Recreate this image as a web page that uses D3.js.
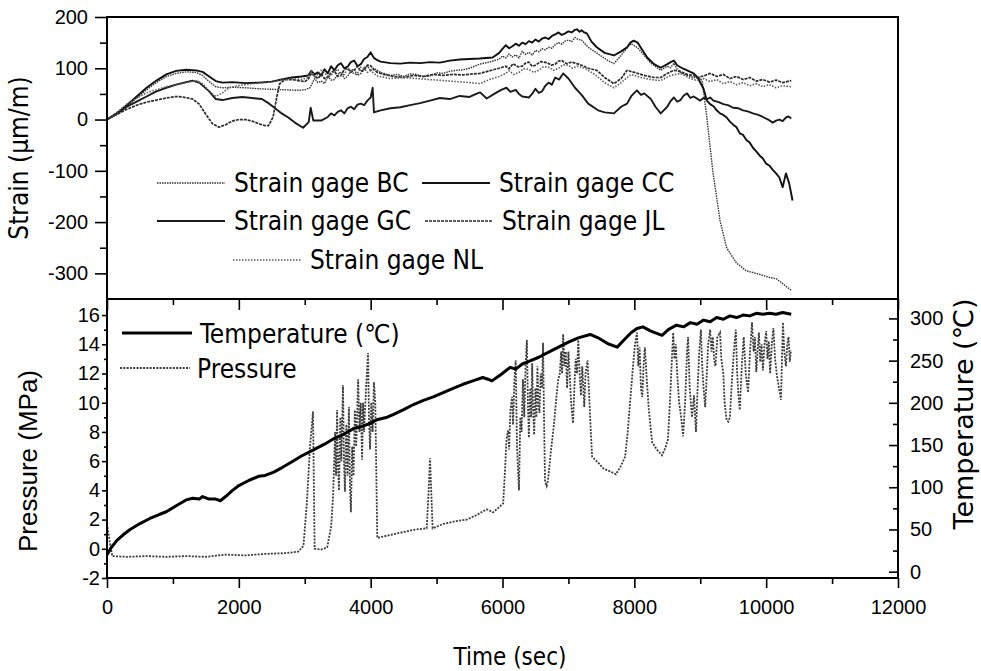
<!DOCTYPE html>
<html>
<head>
<meta charset="utf-8">
<script src="https://cdn.jsdelivr.net/npm/d3@7"></script>
<style>
body { margin: 0; background: #fff; }
.tick text { font-family: Arial, "Liberation Sans", sans-serif; font-size: 20px; fill: #000; }
.tick line { stroke: #000; stroke-width: 1.6; }
.title { font-family: "DejaVu Sans Condensed", "DejaVu Sans", sans-serif; font-size: 26px; fill: #000; }
.legend text { font-family: "DejaVu Sans Condensed", "DejaVu Sans", sans-serif; font-size: 26px; fill: #000; }
</style>
</head>
<body>
<div class="chart"></div>
<script>
// tick values
var timeTicks = [0, 2000, 4000, 6000, 8000, 10000, 12000];
var timeMinor = [1000, 3000, 5000, 7000, 9000, 11000];
var strainTicks = [-300, -200, -100, 0, 100, 200];
var strainMinor = [-250, -150, -50, 50, 150];
var pressureTicks = [-2, 0, 2, 4, 6, 8, 10, 12, 14, 16];
var pressureMinor = [-1, 1, 3, 5, 7, 9, 11, 13, 15];
var tempTicks = [0, 50, 100, 150, 200, 250, 300];
var tempMinor = [25, 75, 125, 175, 225, 275];

var strainNames = ["Strain gage BC", "Strain gage CC", "Strain gage GC", "Strain gage JL", "Strain gage NL"];
var bottomNames = ["Temperature (\u2103)", "Pressure"];

// [time (sec), strain (um/m)]
var strainBC = [[0,0],[150,10],[300,25],[450,42],[600,58],[750,72],[900,84],[1050,90],[1200,93],[1350,92],[1450,86],[1550,74],
  [1650,64],[1750,62],[1900,63],[2100,62],[2300,60],[2500,59],[2700,58],[2900,57],[3000,58],[3080,62],[3150,80],[3200,72],
  [3250,75],[3300,70],[3350,85],[3400,77],[3450,78],[3500,88],[3550,92],[3600,80],[3650,84],[3700,96],[3750,98],[3800,86],
  [3850,90],[3900,101],[3950,105],[4000,95],[4050,100],[4150,92],[4300,86],[4400,88],[4500,84],[4600,89],[4700,88],[4800,84],
  [4900,85],[5000,91],[5100,90],[5200,94],[5300,96],[5400,97],[5500,100],[5650,108],[5800,112],[5900,116],[5950,118],
  [6000,124],[6050,120],[6100,128],[6150,122],[6200,126],[6250,120],[6300,133],[6350,127],[6400,131],[6450,126],[6500,135],
  [6550,132],[6600,138],[6650,136],[6700,141],[6750,139],[6800,146],[6850,150],[6900,147],[6950,153],[7000,155],[7050,152],
  [7100,160],[7150,156],[7200,155],[7300,141],[7450,128],[7600,115],[7690,109],[7800,125],[7890,140],[7950,148],[8050,140],
  [8150,125],[8250,110],[8400,96],[8450,100],[8500,104],[8550,101],[8600,110],[8650,98],[8700,92],[8800,86],[8900,82],
  [9000,80],[9030,76],[9100,4],[9190,-100],[9300,-197],[9400,-250],[9550,-280],[9700,-295],[9900,-302],[10050,-308],
  [10150,-310],[10200,-315],[10300,-325],[10380,-333]];

var strainCC = [[0,0],[150,12],[300,28],[450,45],[600,62],[750,76],[900,88],[1050,95],[1200,97],[1350,96],[1450,93],[1550,84],
  [1650,75],[1750,72],[1900,73],[2100,71],[2300,72],[2500,74],[2650,78],[2800,82],[2950,84],[3050,86],[3100,95],[3150,88],
  [3200,92],[3250,86],[3300,98],[3350,90],[3400,104],[3450,96],[3500,106],[3550,110],[3600,100],[3650,103],[3700,112],
  [3750,115],[3800,104],[3850,108],[3900,118],[3950,122],[4000,131],[4050,120],[4100,116],[4150,113],[4300,110],[4450,109],
  [4600,111],[4750,110],[4900,112],[5050,111],[5200,115],[5350,117],[5500,118],[5650,119],[5850,121],[5950,130],[6000,138],
  [6050,145],[6100,139],[6150,143],[6200,148],[6250,144],[6300,150],[6350,147],[6400,153],[6450,150],[6500,156],[6550,152],
  [6600,158],[6650,160],[6700,157],[6750,163],[6800,166],[6850,170],[6900,165],[6950,168],[7000,172],[7050,170],[7100,175],
  [7130,176],[7170,171],[7200,174],[7240,170],[7280,168],[7350,152],[7430,141],[7550,130],[7690,125],[7800,133],[7890,141],
  [7940,150],[7990,154],[8050,150],[8100,140],[8195,121],[8300,108],[8400,101],[8500,108],[8550,112],[8600,115],[8650,106],
  [8700,102],[8750,99],[8800,96],[8900,90],[8960,82],[9050,60],[9100,37],[9150,30],[9200,26],[9250,18],[9300,12],[9350,9],
  [9400,4],[9450,-4],[9500,-10],[9550,-15],[9600,-27],[9650,-30],[9700,-40],[9750,-45],[9800,-55],[9850,-62],[9900,-70],
  [9950,-76],[10000,-86],[10050,-90],[10100,-98],[10150,-105],[10200,-113],[10250,-132],[10300,-105],[10350,-125],[10400,-158]];

var strainGC = [[0,0],[150,12],[300,25],[450,35],[600,45],[750,55],[900,62],[1050,68],[1200,73],[1300,76],[1400,72],[1550,55],
  [1650,40],[1750,38],[1900,42],[2050,44],[2200,42],[2350,40],[2450,32],[2550,22],[2650,12],[2750,4],[2850,-6],[2975,-16],
  [3060,-5],[3090,23],[3130,-2],[3250,-2],[3350,5],[3400,12],[3450,8],[3500,15],[3550,18],[3600,12],[3650,22],[3700,25],
  [3750,20],[3800,29],[3850,31],[3900,28],[3950,37],[4000,43],[4030,62],[4050,14],[4150,18],[4300,22],[4450,24],[4600,28],
  [4750,32],[4900,37],[5050,42],[5200,40],[5350,46],[5500,44],[5600,50],[5660,53],[5760,41],[5900,52],[5980,58],[6060,62],
  [6120,54],[6200,58],[6250,50],[6300,45],[6400,43],[6450,50],[6500,60],[6550,52],[6600,55],[6650,66],[6700,72],[6750,68],
  [6800,82],[6860,78],[6920,90],[7000,80],[7100,62],[7200,48],[7300,31],[7450,18],[7550,14],[7690,12],[7800,25],[7890,31],
  [7950,45],[8000,52],[8040,57],[8100,48],[8150,51],[8250,40],[8320,25],[8400,12],[8500,25],[8550,36],[8600,43],[8650,35],
  [8700,38],[8750,47],[8800,51],[8850,42],[8900,45],[9000,37],[9050,42],[9100,40],[9150,43],[9200,37],[9280,34],[9350,30],
  [9420,28],[9500,23],[9580,22],[9650,18],[9720,16],[9800,12],[9880,9],[9950,5],[10030,0],[10100,-6],[10150,-2],[10200,0],
  [10250,-3],[10300,4],[10340,6],[10380,2]];

var strainJL = [[0,0],[150,10],[300,20],[450,28],[600,34],[750,38],[900,42],[1050,45],[1150,44],[1300,40],[1400,30],[1500,10],
  [1600,-8],[1700,-15],[1800,-10],[1900,-3],[2000,0],[2100,0],[2200,-3],[2300,-8],[2400,-12],[2450,-12],[2520,5],[2570,40],
  [2620,70],[2700,78],[2800,78],[2900,76],[3000,74],[3050,78],[3100,90],[3150,85],[3200,80],[3250,88],[3300,80],[3350,82],
  [3400,92],[3450,95],[3500,84],[3550,86],[3600,98],[3650,100],[3700,92],[3750,96],[3800,104],[3850,94],[3900,96],[3950,106],
  [4000,105],[4050,97],[4100,92],[4200,88],[4350,84],[4500,82],[4650,86],[4800,84],[4950,88],[5100,86],[5250,88],[5400,87],
  [5550,89],[5660,90],[5800,95],[5950,100],[6050,104],[6100,99],[6160,109],[6230,103],[6300,104],[6350,110],[6400,112],
  [6450,104],[6500,106],[6580,113],[6675,111],[6740,106],[6800,108],[6850,114],[6900,115],[6970,109],[7050,112],[7130,109],
  [7200,106],[7300,100],[7430,96],[7550,82],[7690,70],[7800,80],[7890,96],[8000,92],[8150,86],[8300,82],[8400,82],[8500,90],
  [8600,96],[8700,94],[8800,88],[8900,86],[8960,82],[9050,85],[9150,90],[9250,84],[9350,88],[9450,80],[9550,84],[9650,78],
  [9750,82],[9850,75],[9950,78],[10050,73],[10150,77],[10250,72],[10380,76]];

var strainNL = [[0,0],[150,14],[300,30],[450,42],[600,52],[750,58],[900,64],[1050,68],[1200,72],[1350,76],[1450,70],[1550,55],
  [1650,45],[1750,52],[1850,62],[2000,66],[2200,70],[2400,72],[2600,76],[2800,80],[2950,78],[3050,82],[3100,95],[3150,84],
  [3200,88],[3250,96],[3300,92],[3350,82],[3400,86],[3450,94],[3500,98],[3550,86],[3600,88],[3650,100],[3700,96],[3750,88],
  [3800,90],[3850,102],[3900,100],[3950,92],[4000,95],[4100,85],[4300,80],[4500,82],[4700,80],[4900,78],[5100,76],[5300,74],
  [5500,72],[5660,70],[5800,78],[5950,84],[6050,90],[6100,95],[6170,88],[6250,92],[6320,99],[6400,98],[6470,92],[6550,96],
  [6620,103],[6700,102],[6780,96],[6850,100],[6920,107],[7000,106],[7060,100],[7130,104],[7250,100],[7400,88],[7550,72],
  [7690,62],[7800,72],[7950,88],[8100,82],[8250,78],[8400,76],[8550,86],[8700,90],[8850,80],[8950,76],[9050,80],[9150,74],
  [9250,78],[9350,70],[9450,74],[9550,68],[9650,72],[9750,66],[9850,70],[9950,64],[10050,68],[10150,62],[10250,66],[10380,64]];

// [time (sec), pressure (MPa)]
var pressure = [[0,1.7],[40,0.5],[80,-0.5],[300,-0.55],[600,-0.5],[900,-0.55],[1200,-0.5],[1500,-0.55],[1800,-0.4],
  [2100,-0.45],[2400,-0.35],[2700,-0.3],[2900,-0.2],[2980,0.2],[3030,3],[3080,7],[3125,9.4],[3150,0],[3250,-0.05],
  [3340,0.1],[3400,1.5],[3430,3.6],[3460,8],[3475,5],[3490,9.5],[3505,5.5],[3520,4],[3540,9],[3555,6],[3580,11.2],
  [3595,6],[3610,3.9],[3630,8.5],[3650,5],[3670,9.7],[3685,4.5],[3700,2.5],[3720,7],[3740,5],[3760,9.5],[3780,7],
  [3810,11.6],[3830,8],[3850,10],[3870,6.1],[3885,10],[3900,8],[3930,11],[3960,13.4],[3975,9],[3990,6.8],[4010,10],
  [4030,8],[4050,11.4],[4070,10],[4100,0.75],[4250,0.9],[4450,1.1],[4650,1.3],[4850,1.4],[4880,4],[4900,6.2],[4940,1.4],
  [5100,1.7],[5300,1.9],[5460,2.0],[5600,2.3],[5760,2.7],[5860,2.5],[6010,3.1],[6040,5.5],[6060,7.5],[6085,8.1],[6100,6.8],
  [6120,9.5],[6145,10.4],[6160,8.5],[6180,11.5],[6200,12.9],[6220,7],[6250,4.0],[6270,9],[6290,8],[6310,11.6],[6330,9],
  [6350,12.5],[6370,14.3],[6385,10],[6400,7.6],[6420,11],[6435,9],[6450,12.7],[6465,9.5],[6480,7.8],[6500,11],[6515,9],
  [6530,12.5],[6545,10],[6560,9.3],[6580,12],[6600,11],[6615,14.1],[6630,9],[6645,4.6],[6670,4.3],[6690,4.7],[6730,6.5],
  [6780,8.5],[6820,10.5],[6845,11.6],[6870,12],[6890,13.5],[6905,12],[6920,14.7],[6940,12.5],[6960,13.5],[6980,11.0],
  [7000,13.5],[7020,12],[7040,10],[7070,8.6],[7090,11],[7110,13],[7130,12],[7150,14.3],[7170,12],[7190,10.5],[7210,12.5],
  [7240,9.7],[7260,12],[7290,12.9],[7320,10],[7340,8],[7360,6.3],[7450,5.9],[7530,5.5],[7630,5.3],[7720,5.1],[7800,5.7],
  [7860,6.3],[7900,8],[7935,10.0],[7980,12.5],[8010,14],[8040,14.8],[8060,12.5],[8080,13.8],[8100,11],[8120,10.4],
  [8140,12.5],[8160,13.8],[8190,11.5],[8220,9.5],[8270,7.3],[8340,6.8],[8420,6.4],[8470,6.9],[8510,7.5],[8540,10],
  [8570,13],[8590,14.8],[8610,13],[8630,14],[8650,12],[8680,10],[8710,9],[8740,7.7],[8770,10],[8800,13.5],[8815,14.5],
  [8840,11],[8875,9.0],[8905,10.5],[8935,8.0],[8960,11],[8985,13.5],[9010,15.0],[9030,12.5],[9050,11],[9075,9.7],
  [9100,12],[9120,14],[9150,15.0],[9170,13.5],[9190,14.5],[9210,13],[9230,12.5],[9260,14.5],[9300,14.8],[9320,13],
  [9350,12],[9370,10],[9400,8.8],[9425,8.7],[9450,9.0],[9480,11.5],[9510,13.5],[9540,15.0],[9560,12],[9580,10.5],
  [9600,9.5],[9630,12.5],[9660,14.5],[9690,12],[9725,10.7],[9755,13.5],[9785,15.5],[9810,13.5],[9830,14.5],[9850,12.1],
  [9870,13.5],[9890,14.8],[9910,12.8],[9930,14],[9950,12.2],[9975,14],[10000,14.9],[10020,13],[10040,14.2],[10060,12.0],
  [10085,14],[10110,15.1],[10135,13],[10165,11.8],[10195,11],[10225,10.2],[10240,13],[10255,15.5],[10275,13.5],
  [10300,12.5],[10320,14],[10340,14.5],[10358,12.8],[10375,13.6]];

// [time (sec), temperature (C)]
var temperature = [[0,20],[60,28],[150,37],[250,44],[350,50],[500,57],[650,63],[800,68],[900,71],[1050,78],[1200,85],
  [1300,87],[1400,86],[1450,89],[1550,86],[1650,86],[1720,84],[1800,89],[1900,96],[2000,102],[2150,108],[2300,113],
  [2400,114],[2530,118],[2650,123],[2800,130],[2950,137],[3125,144],[3300,151],[3450,158],[3600,163],[3750,170],[3870,172],
  [4000,176],[4095,180],[4250,183],[4340,186],[4500,192],[4650,198],[4800,203],[4950,207],[5100,212],[5250,217],[5400,222],
  [5550,226],[5700,230],[5780,228],[5840,226],[5950,232],[6050,238],[6115,242],[6200,240],[6300,246],[6400,249],[6550,254],
  [6700,260],[6850,266],[7000,272],[7150,277],[7330,281],[7450,277],[7600,270],[7740,266],[7850,275],[7950,283],[8040,288],
  [8130,290],[8250,285],[8420,280],[8520,287],[8640,292],[8750,290],[8850,295],[8950,293],[9050,298],[9150,296],[9250,301],
  [9350,299],[9450,303],[9550,301],[9650,304],[9750,303],[9850,306],[9950,305],[10050,306],[10150,305],[10250,307],[10380,305]];

var strainSeries = [strainBC, strainCC, strainGC, strainJL, strainNL];

var width = 981, height = 671;
var left = 107, right = 898, top1 = 17, mid = 299, bottom = 578;

var svg = d3.select(".chart").append("svg")
    .attr("width", width)
    .attr("height", height)
    .style("background", "#fff");

var x = d3.scaleLinear().domain([0, 12000]).range([left, right]);
var yStrain = d3.scaleLinear().domain([-350, 200]).range([mid, top1]);
var yPress = d3.scaleLinear().domain([-2, 17.1]).range([bottom, mid]);
var yTemp = d3.scaleLinear().domain([-7.5, 323]).range([bottom, mid]);

// plain labels, hyphen minus and no thousands comma
var plain = function(d) { return String(d); };

// line looks for each gage
var strainStyles = [
    { stroke: "#333", width: 1.4, dash: "1.5,1" },
    { stroke: "#111", width: 1.9, dash: null },
    { stroke: "#1a1a1a", width: 1.9, dash: null },
    { stroke: "#2a2a2a", width: 1.7, dash: "3,1" },
    { stroke: "#5a5a5a", width: 1.6, dash: "1.5,1.5" }
];

var strainLine = d3.line().x(function(d) { return x(d[0]); }).y(function(d) { return yStrain(d[1]); });
var pressLine = d3.line().x(function(d) { return x(d[0]); }).y(function(d) { return yPress(d[1]); });
var tempLine = d3.line().x(function(d) { return x(d[0]); }).y(function(d) { return yTemp(d[1]); });

svg.selectAll(".strain")
    .data(strainSeries)
    .enter().append("path")
    .attr("class", "strain")
    .attr("d", strainLine)
    .attr("fill", "none")
    .attr("stroke", function(d, i) { return strainStyles[i].stroke; })
    .attr("stroke-width", function(d, i) { return strainStyles[i].width; })
    .attr("stroke-dasharray", function(d, i) { return strainStyles[i].dash; })
    .attr("stroke-linejoin", "round");

svg.append("path")
    .attr("d", pressLine(pressure))
    .attr("fill", "none")
    .attr("stroke", "#3c3c3c")
    .attr("stroke-width", 1.8)
    .attr("stroke-dasharray", "2,1.3");

svg.append("path")
    .attr("d", tempLine(temperature))
    .attr("fill", "none")
    .attr("stroke", "#000")
    .attr("stroke-width", 3)
    .attr("stroke-linejoin", "round");

// axes
function noDomain(g) { g.select(".domain").remove(); }

svg.append("g").attr("transform", "translate(" + left + ",0)")
    .call(d3.axisLeft(yStrain).tickValues(strainTicks).tickFormat(plain).tickSize(12).tickPadding(7)).call(noDomain);
svg.append("g").attr("transform", "translate(" + left + ",0)")
    .call(d3.axisLeft(yStrain).tickValues(strainMinor).tickSize(7).tickFormat("")).call(noDomain);

svg.append("g").attr("transform", "translate(" + left + ",0)")
    .call(d3.axisLeft(yPress).tickValues(pressureTicks).tickFormat(plain).tickSize(5).tickPadding(2)).call(noDomain);
svg.append("g").attr("transform", "translate(" + left + ",0)")
    .call(d3.axisLeft(yPress).tickValues(pressureMinor).tickSize(3).tickFormat("")).call(noDomain);

svg.append("g").attr("transform", "translate(" + right + ",0)")
    .call(d3.axisRight(yTemp).tickValues(tempTicks).tickFormat(plain).tickSizeInner(-9).tickSizeOuter(0).tickPadding(12)).call(noDomain);
svg.append("g").attr("transform", "translate(" + right + ",0)")
    .call(d3.axisRight(yTemp).tickValues(tempMinor).tickSize(-5).tickFormat("")).call(noDomain);

svg.append("g").attr("transform", "translate(0," + bottom + ")")
    .call(d3.axisBottom(x).tickValues(timeTicks).tickFormat(plain).tickSize(10).tickPadding(12)).call(noDomain);
svg.append("g").attr("transform", "translate(0," + bottom + ")")
    .call(d3.axisBottom(x).tickValues(timeMinor).tickSize(6).tickFormat("")).call(noDomain);

svg.append("g").attr("transform", "translate(0," + mid + ")")
    .call(d3.axisBottom(x).tickValues(timeTicks).tickSize(11).tickFormat("")).call(noDomain);
svg.append("g").attr("transform", "translate(0," + mid + ")")
    .call(d3.axisBottom(x).tickValues(timeMinor).tickSize(6).tickFormat("")).call(noDomain);

// panel frames
svg.append("rect").attr("x", left).attr("y", top1).attr("width", right - left).attr("height", mid - top1)
    .attr("fill", "none").attr("stroke", "#000").attr("stroke-width", 2);
svg.append("rect").attr("x", left).attr("y", mid).attr("width", right - left).attr("height", bottom - mid)
    .attr("fill", "none").attr("stroke", "#000").attr("stroke-width", 2);

// titles
svg.append("text").attr("class", "title")
    .attr("transform", "translate(28,158) rotate(-90)")
    .style("text-anchor", "middle")
    .text("Strain (\u03bcm/m)");
svg.append("text")
    .attr("transform", "translate(37,461) rotate(-90)")
    .style("text-anchor", "middle")
    .style("font-family", "Arial, 'Liberation Sans', sans-serif")
    .style("font-size", "26px")
    .text("Pressure (MPa)");
svg.append("text").attr("class", "title")
    .attr("transform", "translate(973,414) rotate(-90)")
    .style("text-anchor", "middle")
    .style("font-family", "'DejaVu Sans', sans-serif")
    .style("font-size", "27px")
    .text("Temperature (\u2103)");
svg.append("text").attr("class", "title")
    .attr("x", 510).attr("y", 665)
    .style("text-anchor", "middle")
    .style("font-size", "24px")
    .text("Time (sec)");

// legends
var strainSlots = [[157, 183], [422, 183], [157, 221], [425, 221], [233, 260]];
var strainLegend = svg.append("g").attr("class", "legend");
strainNames.forEach(function(name, i) {
    var s = strainSlots[i], st = strainStyles[i];
    strainLegend.append("line")
        .attr("x1", s[0]).attr("x2", s[0] + 68).attr("y1", s[1]).attr("y2", s[1])
        .attr("stroke", st.stroke).attr("stroke-width", st.width).attr("stroke-dasharray", st.dash);
    strainLegend.append("text")
        .attr("x", s[0] + 77).attr("y", s[1]).attr("dy", "0.35em")
        .text(name);
});

var bottomLegend = svg.append("g").attr("class", "legend");
bottomLegend.append("line").attr("x1", 122).attr("x2", 192).attr("y1", 333).attr("y2", 333)
    .attr("stroke", "#000").attr("stroke-width", 3);
bottomLegend.append("text").attr("x", 200).attr("y", 334).attr("dy", "0.35em").text(bottomNames[0]);
bottomLegend.append("line").attr("x1", 120).attr("x2", 190).attr("y1", 368).attr("y2", 368)
    .attr("stroke", "#3c3c3c").attr("stroke-width", 1.8).attr("stroke-dasharray", "2,1.3");
bottomLegend.append("text").attr("x", 197).attr("y", 369).attr("dy", "0.35em").text(bottomNames[1]);
</script>
</body>
</html>
